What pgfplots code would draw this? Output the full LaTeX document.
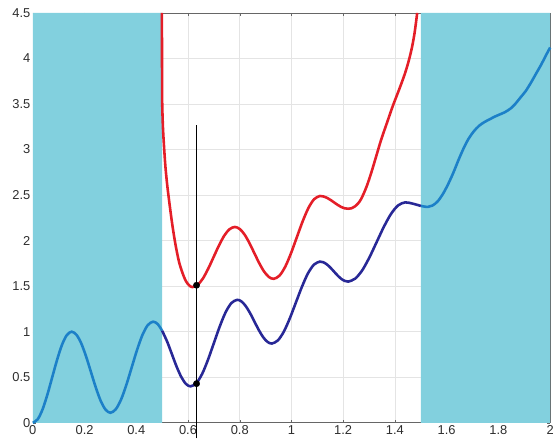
\documentclass[border=0pt]{standalone}
\usepackage{pgfplots}
\pgfplotsset{compat=1.18}
\usetikzlibrary{calc}
\usepackage{fontspec}
\setmainfont{Liberation Sans}
\definecolor{shade}{RGB}{130,208,222}
\definecolor{lblue}{RGB}{28,128,200}
\definecolor{dblue}{RGB}{40,40,150}
\definecolor{myred}{RGB}{228,30,40}
\definecolor{gridc}{RGB}{228,228,228}
\definecolor{labc}{RGB}{45,45,45}
\begin{document}
\begin{tikzpicture}
\begin{axis}[
  scale only axis, width=520bp, height=412bp,
  xmin=0, xmax=2, ymin=0, ymax=4.5,
  xtick={0,0.2,...,2.01}, ytick={0,0.5,...,4.51},
  xticklabels={0,0.2,0.4,0.6,0.8,1,1.2,1.4,1.6,1.8,2},
  yticklabels={0,0.5,1,1.5,2,2.5,3,3.5,4,4.5},
  grid=major, major grid style={gridc, line width=0.6pt},
  axis line style={gray!80!black, line width=0.6pt},
  tick style={gray!80!black}, tick align=inside, major tick length=3bp,
  ticklabel style={font=\fontsize{13}{15}\selectfont, text=labc},
  xticklabel style={yshift=1bp},
  yticklabel style={xshift=1bp},
  clip=false,
]
\addplot[draw=none, fill=shade] coordinates {(0,0) (0.5,0) (0.5,4.5) (0,4.5)} \closedcycle;
\addplot[draw=none, fill=shade] coordinates {(1.5,0) (2,0) (2,4.5) (1.5,4.5)} \closedcycle;
% light blue left
\addplot[lblue, line width=2.6pt, smooth] coordinates {
 (0,0) (0.01875,0.038) (0.0375,0.146) (0.05625,0.309) (0.075,0.50) (0.09375,0.691) (0.1125,0.854) (0.13125,0.962) (0.15,1.00)
 (0.16875,0.966) (0.1875,0.870) (0.20625,0.725) (0.225,0.555) (0.24375,0.385) (0.2625,0.240) (0.28125,0.144) (0.30,0.11)
 (0.3206,0.148) (0.3413,0.256) (0.3619,0.419) (0.3825,0.61) (0.4031,0.801) (0.4238,0.964) (0.4444,1.072) (0.465,1.11)
 (0.4831,1.083) (0.5,1.01)};
% light blue right
\addplot[lblue, line width=2.6pt, smooth] coordinates {
 (1.5,2.381) (1.527,2.37) (1.545,2.385) (1.565,2.43) (1.585,2.51) (1.604,2.61) (1.625,2.74) (1.645,2.88) (1.665,3.01) (1.685,3.12) (1.705,3.20) (1.725,3.26) (1.745,3.30) (1.765,3.33) (1.785,3.36) (1.805,3.385) (1.825,3.41) (1.847,3.45) (1.865,3.50) (1.885,3.57) (1.905,3.64) (1.925,3.73) (1.945,3.83) (1.965,3.93) (1.985,4.04) (2.0,4.12)};
% dark blue
\addplot[dblue, line width=2.6pt, smooth] coordinates {
 (0.5,1.01) (0.5194,0.891) (0.5375,0.755) (0.5556,0.619) (0.5738,0.504) (0.5919,0.427) (0.61,0.40)
 (0.6325,0.436) (0.655,0.539) (0.6775,0.694) (0.70,0.875) (0.7225,1.056) (0.745,1.211) (0.7675,1.314) (0.79,1.35)
 (0.8068,1.332) (0.8235,1.280) (0.8403,1.202) (0.857,1.11) (0.8738,1.018) (0.8905,0.940) (0.9073,0.888) (0.924,0.87)
 (0.9473,0.904) (0.9705,1.001) (0.9938,1.148) (1.017,1.32) (1.0403,1.492) (1.0635,1.639) (1.0868,1.736) (1.11,1.77)
 (1.1236,1.762) (1.1373,1.738) (1.1509,1.702) (1.1645,1.66) (1.1781,1.618) (1.1918,1.582) (1.2054,1.558) (1.219,1.55)
 (1.2466,1.583) (1.2743,1.677) (1.3019,1.819) (1.3295,1.985) (1.3571,2.151) (1.3848,2.293) (1.4124,2.387) (1.44,2.42)
 (1.47,2.405) (1.5,2.381)};
% red
\addplot[myred, line width=2.6pt, smooth] coordinates {
 (0.499,4.5) (0.4995,4.0) (0.500,3.55) (0.503,3.25) (0.508,3.0) (0.513,2.80) (0.520,2.60) (0.530,2.37) (0.540,2.16) (0.552,1.95) (0.565,1.77) (0.578,1.65) (0.591,1.56) (0.604,1.51) (0.617,1.49)
 (0.6375,1.515) (0.658,1.586) (0.6785,1.694) (0.699,1.82) (0.7195,1.946) (0.740,2.054) (0.7605,2.125) (0.781,2.15)
 (0.7998,2.128) (0.8185,2.067) (0.8373,1.974) (0.856,1.865) (0.8748,1.756) (0.8935,1.663) (0.9123,1.602) (0.931,1.58)
 (0.9534,1.615) (0.9758,1.713) (0.9981,1.861) (1.0205,2.035) (1.0429,2.209) (1.0653,2.357) (1.0876,2.455) (1.11,2.49)
 (1.1236,2.485) (1.1373,2.47) (1.1509,2.447) (1.1645,2.42) (1.1781,2.393) (1.1918,2.37) (1.2054,2.355) (1.219,2.35)
 (1.232,2.355) (1.245,2.375) (1.258,2.41) (1.27,2.46) (1.29,2.59) (1.309,2.75) (1.328,2.93) (1.347,3.11) (1.37,3.30) (1.392,3.48) (1.415,3.65) (1.437,3.82) (1.452,3.96) (1.465,4.11) (1.476,4.28) (1.486,4.5)};
% vertical line
\addplot[black, line width=0.8pt] coordinates {(0.633,-0.17) (0.633,3.27)};
\addplot[only marks, mark=*, mark size=3.2pt, black] coordinates {(0.633,0.43) (0.633,1.51)};
\end{axis}
\path ($(current axis.south west)+(-33bp,-16bp)$) rectangle ($(current axis.north east)+(4bp,13bp)$);
\end{tikzpicture}
\end{document}
